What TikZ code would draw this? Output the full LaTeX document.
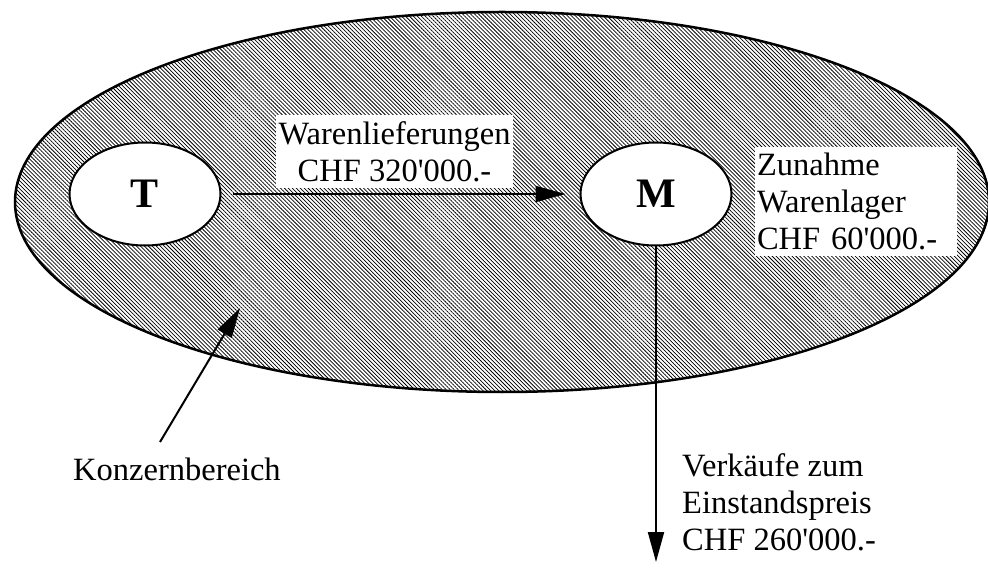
\documentclass[tikz,border=0pt]{standalone}
\usepackage{fontspec}
\setmainfont{Liberation Serif}
% separate family without TeX quote mapping, so ' stays a straight apostrophe
\newfontfamily\labelfont{Liberation Serif}[Ligatures=ResetAll]
\usetikzlibrary{shapes.geometric,arrows.meta,patterns.meta}
\begin{document}
\begin{tikzpicture}[x=1pt,y=-1pt,
  lbl/.style={font=\labelfont\fontsize{32.5}{37}\selectfont, align=left, inner sep=0pt},
  labelbox/.style={lbl, fill=white},
  unit/.style={ellipse, draw, line width=2pt, fill=white,
    minimum width=151pt, minimum height=103pt, inner sep=0pt,
    font=\labelfont\fontsize{42}{46}\selectfont\bfseries},
  flow/.style={line width=2pt, -{Triangle[length=30pt,width=16pt]}},
  group/.style={draw, line width=2.5pt,
    pattern={Lines[angle=-45,distance=2.8pt,line width=0.75pt]}}]
\useasboundingbox (0,0) rectangle (988,569);

% group boundary
\path[group] (502,202) ellipse [x radius=487, y radius=190];

% companies
\node[unit] (T) at (145,194) {T};
\node[unit] (M) at (656,194) {M};

% deliveries T -> M
\draw[flow, shorten <=11pt, shorten >=14pt] (T) -- (M);
\node[labelbox, align=center, minimum width=237pt, minimum height=73pt]
  (deliv) at (394.5,151.5) {Warenlieferungen\\CHF 320'000.-};

% stock increase
\node[labelbox, text width=198pt, inner xsep=2pt, minimum height=109pt]
  (stock) at (856,201.5) {Zunahme\\Warenlager\\CHF 60'000.-};

% sales leaving the group
\coordinate (sale) at (656,562);
\draw[flow] (M) -- (sale);
\node[lbl, anchor=north west] (sales) at (682,453)
  {Verkäufe zum\\Einstandspreis\\CHF 260'000.-};

% group label
\coordinate (kstart) at (160,442);
\coordinate (ktip) at (240,308);
\draw[flow] (kstart) -- (ktip);
\node[lbl, anchor=base west] (kb) at (73,480) {Konzernbereich};
\end{tikzpicture}
\end{document}
